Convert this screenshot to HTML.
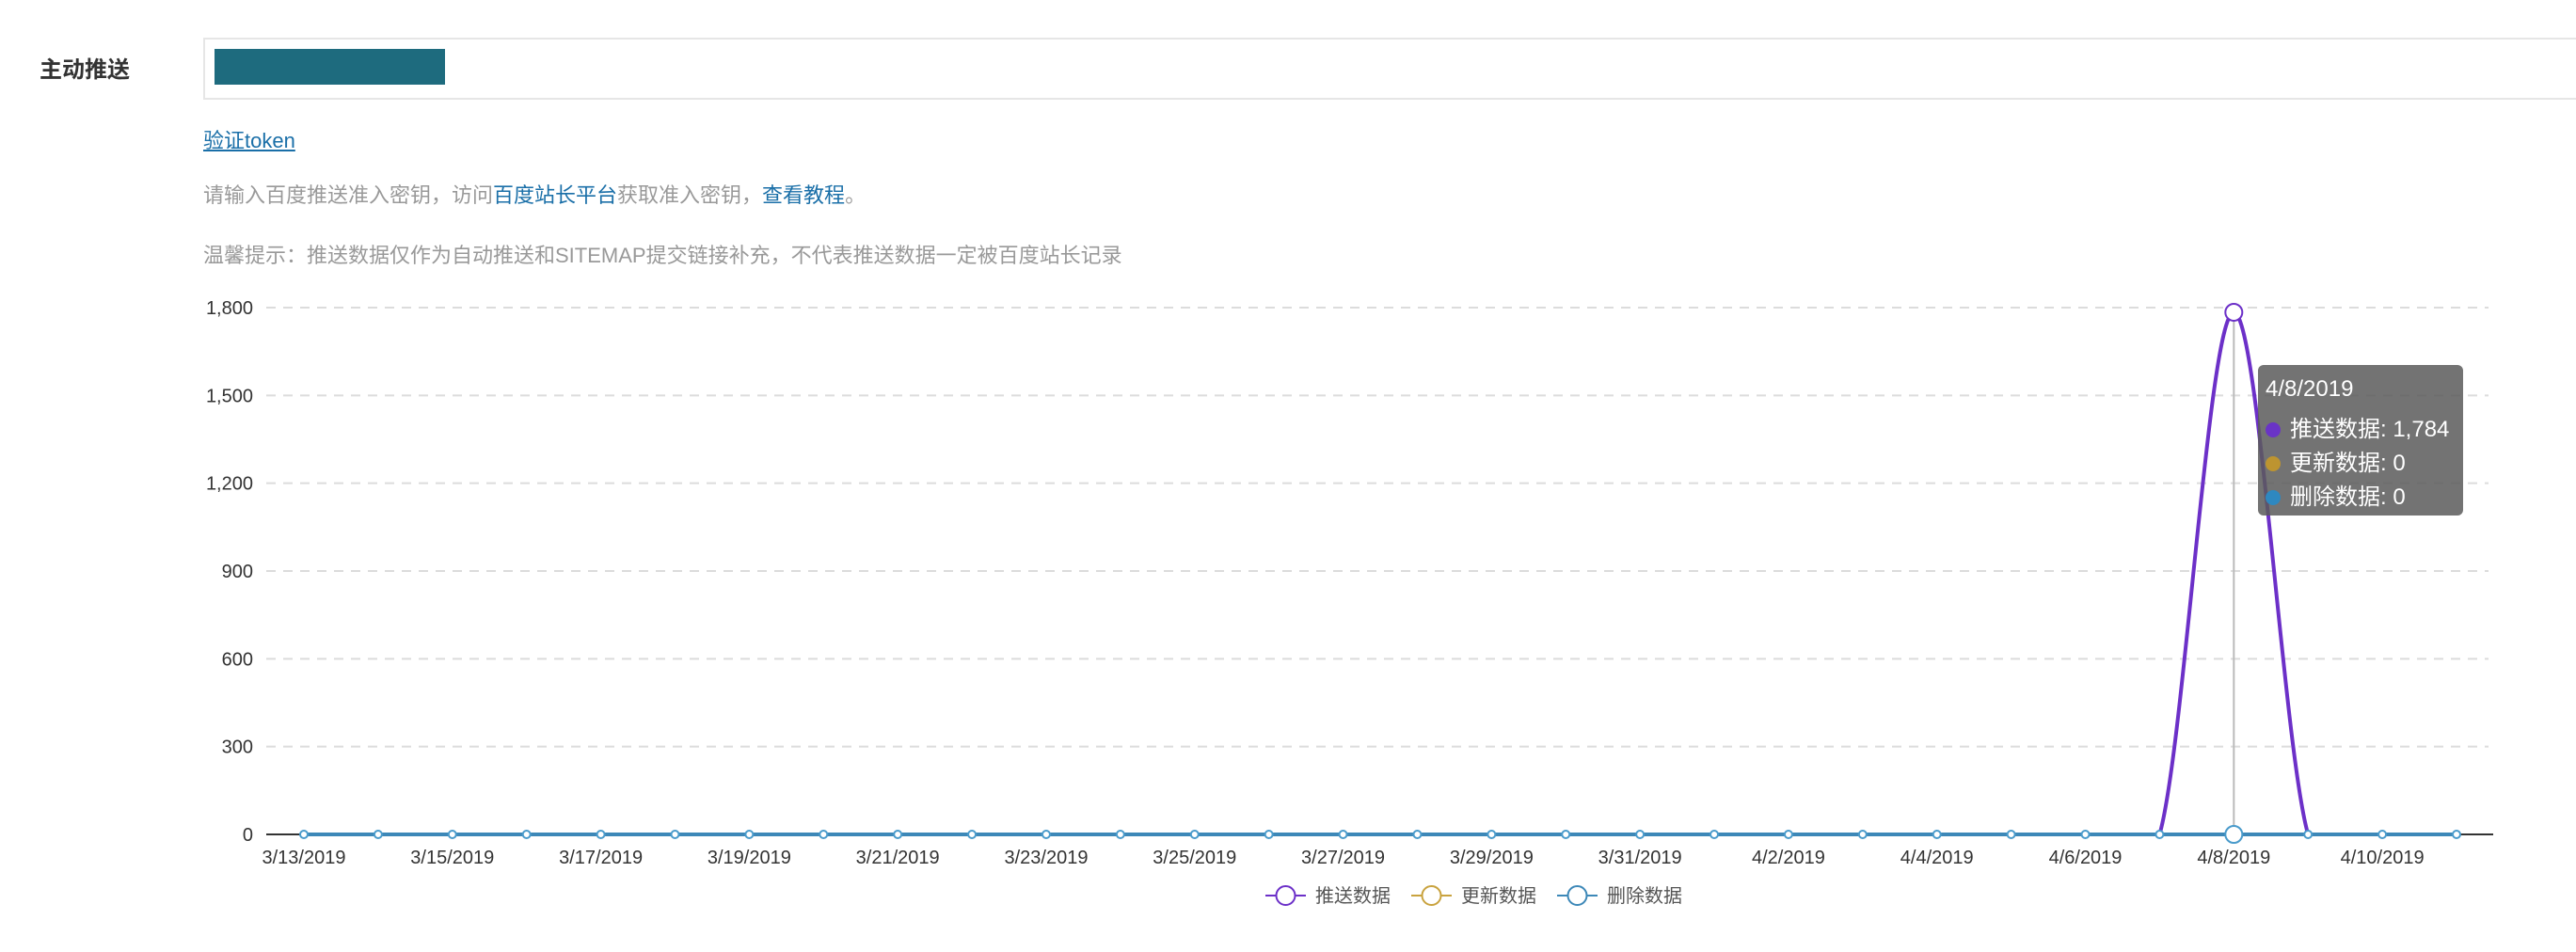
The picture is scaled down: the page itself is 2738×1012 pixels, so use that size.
<!DOCTYPE html>
<html><head><meta charset="utf-8">
<style>
body{margin:0;width:2738px;height:1012px;background:#fff;overflow:hidden;position:relative;font-family:"Liberation Sans","Noto Sans CJK SC",sans-serif;}
.abs{position:absolute;white-space:nowrap;}
</style></head><body>
<div class="abs" style="left:42px;top:54px;font-size:24px;font-weight:bold;color:#333;">主动推送</div>
<div class="abs" style="left:216px;top:40px;width:2530px;height:62px;border:2px solid #e6e6e6;background:#fff;"></div>
<div class="abs" style="left:228px;top:52px;width:245px;height:38px;background:#1e6b7e;"></div>
<a class="abs" style="left:216px;top:132px;font-size:22px;color:#1a6fa8;text-decoration:underline;">验证token</a>
<div class="abs" style="left:216px;top:190px;font-size:22px;color:#999;">请输入百度推送准入密钥，访问<span style="color:#1a6fa8">百度站长平台</span>获取准入密钥，<span style="color:#1a6fa8">查看教程</span>。</div>
<div class="abs" style="left:216px;top:254px;font-size:22px;color:#999;">温馨提示：推送数据仅作为自动推送和SITEMAP提交链接补充，不代表推送数据一定被百度站长记录</div>

<svg id="chart" width="2738" height="1012" style="position:absolute;left:0;top:0;font-family:'Liberation Sans','Noto Sans CJK SC',sans-serif;"></svg>

<div class="abs" style="left:2400px;top:388px;width:218px;height:160px;background:rgba(90,90,90,0.85);border-radius:6px;color:#fff;font-size:24px;">
<div style="position:absolute;left:8px;top:12px;">4/8/2019</div>
<div style="position:absolute;left:8px;top:48px;"><span style="display:inline-block;width:16px;height:16px;border-radius:8px;background:#6a34c6;vertical-align:-1px;margin-right:10px"></span>推送数据: 1,784</div>
<div style="position:absolute;left:8px;top:84px;"><span style="display:inline-block;width:16px;height:16px;border-radius:8px;background:#bd9430;vertical-align:-1px;margin-right:10px"></span>更新数据: 0</div>
<div style="position:absolute;left:8px;top:120px;"><span style="display:inline-block;width:16px;height:16px;border-radius:8px;background:#2e88c0;vertical-align:-1px;margin-right:10px"></span>删除数据: 0</div>
</div>

<script>
const categories=["3/13/2019","3/14/2019","3/15/2019","3/16/2019","3/17/2019","3/18/2019","3/19/2019","3/20/2019","3/21/2019","3/22/2019","3/23/2019","3/24/2019","3/25/2019","3/26/2019","3/27/2019","3/28/2019","3/29/2019","3/30/2019","3/31/2019","4/1/2019","4/2/2019","4/3/2019","4/4/2019","4/5/2019","4/6/2019","4/7/2019","4/8/2019","4/9/2019","4/10/2019","4/11/2019"];
const pushData=[0,0,0,0,0,0,0,0,0,0,0,0,0,0,0,0,0,0,0,0,0,0,0,0,0,0,1784,0,0,0];
const updateData=[0,0,0,0,0,0,0,0,0,0,0,0,0,0,0,0,0,0,0,0,0,0,0,0,0,0,0,0,0,0];
const deleteData=[0,0,0,0,0,0,0,0,0,0,0,0,0,0,0,0,0,0,0,0,0,0,0,0,0,0,0,0,0,0];
const yTicks=[0,300,600,900,1200,1500,1800];
const seriesNames=["推送数据","更新数据","删除数据"];
const hoverIndex=26;

const svg=document.getElementById('chart');
const NS="http://www.w3.org/2000/svg";
const X0=323,X1=2611,Y0=887,Y1=327,YMAX=1800,AXL=283,AXR=2650;
const xs=i=>X0+(X1-X0)*i/(categories.length-1);
const ys=v=>Y0-(Y0-Y1)*v/YMAX;
function mk(t,a){const e=document.createElementNS(NS,t);for(const k in a)e.setAttribute(k,a[k]);svg.appendChild(e);return e;}

yTicks.forEach(t=>{
  if(t>0){const g=mk('line',{x1:AXL,x2:AXR-5,y1:ys(t),y2:ys(t),stroke:'#dcdcdc','stroke-width':2,'stroke-dasharray':'10,8'});
  
  }
  const l=mk('text',{x:269,y:ys(t)+7,'text-anchor':'end','font-size':20,fill:'#333'});
  l.textContent=t.toLocaleString('en-US');
  
  
});
const ax=mk('line',{x1:AXL,x2:AXR,y1:Y0,y2:Y0,stroke:'#333','stroke-width':2});


categories.forEach((c,i)=>{
  if(i%2)return;
  const l=mk('text',{x:xs(i),y:918,'text-anchor':'middle','font-size':20,fill:'#333'});
  l.textContent=c;
  
  
});
const hl=mk('line',{x1:xs(hoverIndex),x2:xs(hoverIndex),y1:ys(pushData[hoverIndex]),y2:Y0,stroke:'#bbb','stroke-width':2});



function path(data){
  const p=data.map((v,i)=>[xs(i),ys(v)]);
  let d='M'+p[0][0]+','+p[0][1];
  for(let i=0;i<p.length-1;i++){
    const a=p[Math.max(i-1,0)],b=p[i],c=p[i+1],e=p[Math.min(i+2,p.length-1)];
    let c1y=b[1]+(c[1]-a[1])/6,c2y=c[1]-(e[1]-b[1])/6;
    c1y=Math.min(c1y,Y0);c2y=Math.min(c2y,Y0);
    d+=` C${b[0]+(c[0]-a[0])/6},${c1y} ${c[0]-(e[0]-b[0])/6},${c2y} ${c[0]},${c[1]}`;
  }
  return d;
}
const series=[[pushData,'#6c30c8','push'],[updateData,'#c9a33f','update'],[deleteData,'#3d88b8','delete']];
series.forEach(([data,col,nm])=>{
  const l=mk('path',{d:path(data),fill:'none',stroke:col,'stroke-width':4});
  
  
});
series.forEach(([data,col,nm],si)=>{
  data.forEach((v,i)=>{
    if(si===0&&v===0)return;
    if(si===1)return;
    const big=(i===hoverIndex);
    const c=mk('circle',{cx:xs(i),cy:ys(v),r:big?9:4,fill:'#fff',stroke:si===0?'#6c30c8':'#4a9bcb','stroke-width':2});
    
    
  });
});
const lx=[1345,1500,1655];
seriesNames.forEach((n,i)=>{
  const col=series[i][1];
  const ln=mk('line',{x1:lx[i],x2:lx[i]+43,y1:952,y2:952,stroke:col,'stroke-width':2});
  
  
  const c=mk('circle',{cx:lx[i]+21.5,cy:952,r:10,fill:'#fff',stroke:col,'stroke-width':2});
  
  
  const t=mk('text',{x:lx[i]+53,y:959,'font-size':20,fill:'#555'});
  t.textContent=n;
  
  
});
</script>
</body></html>
